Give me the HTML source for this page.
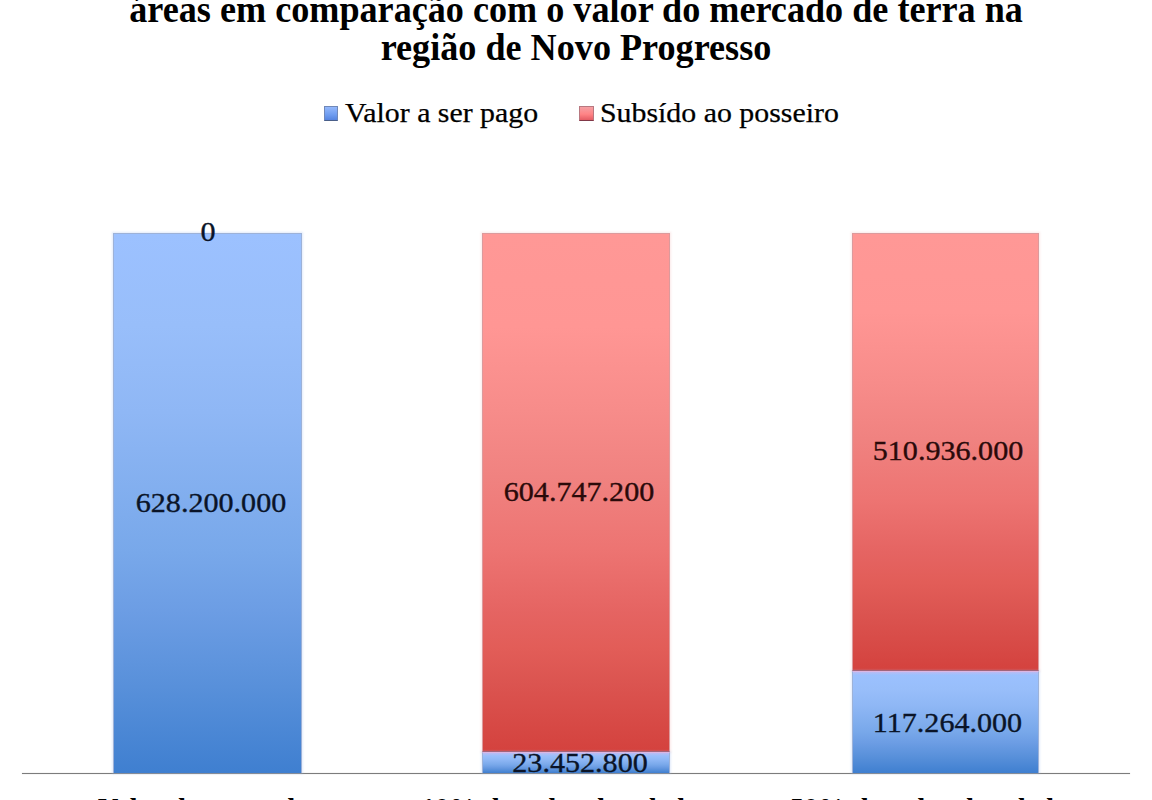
<!DOCTYPE html>
<html>
<head>
<meta charset="utf-8">
<style>
html,body{margin:0;padding:0;background:#fff;}
body{width:1152px;height:800px;position:relative;overflow:hidden;font-family:"Liberation Serif",serif;}
.c{position:absolute;width:1600px;text-align:center;white-space:nowrap;line-height:1;}
.c>span{display:inline-block;}
.title{font-weight:bold;color:#000;font-size:37.4px;}
.title>span{transform:scaleX(0.967);}
.leg{position:absolute;white-space:nowrap;line-height:1;font-size:28.3px;color:#000;transform-origin:0 0;transform:scaleX(1.055);-webkit-text-stroke:0.25px #000;}
.sw{position:absolute;width:15px;height:15px;box-sizing:border-box;}
.bar{position:absolute;box-sizing:border-box;}
.blue{background:linear-gradient(#9cc1ff 0%,#98befa 17%,#8fb7f5 33%,#78a8ea 59%,#6c9de4 70%,#5890da 84%,#3f7fd0 100%);border:1px solid #9db2d8;box-shadow:0 0 2px 1px rgba(170,195,240,0.35);}
.red{background:linear-gradient(#ff9896 0%,#ff9694 18%,#f78c8a 34%,#f08280 47%,#ed7472 61%,#e56462 73%,#e25d58 80%,#db5450 87%,#d4423e 100%);border:1px solid #dc9a9c;border-bottom-color:#a04858;box-shadow:0 0 2px 1px rgba(240,190,190,0.35);}
.blue{border-bottom:none;}
.blue.seg{border-top:1px solid #dcb6e2;}
.blue.seg::before{content:'';position:absolute;left:0;right:0;top:0;height:3px;background:linear-gradient(rgba(200,184,236,0.7),rgba(170,196,250,0));}
.lbl{font-size:28px;color:#0a1428;-webkit-text-stroke:0.35px #0a1428;}
.lbl>span{transform:scaleX(1.075);}
.lblr{color:#2a0a0a;-webkit-text-stroke-color:#2a0a0a;}
.cat{position:absolute;font-weight:bold;font-size:28px;color:#000;white-space:nowrap;line-height:1;}
</style>
</head>
<body>
<div class="c title" style="left:-224px;top:-9.4px;"><span id="t1">áreas em comparação com o valor do mercado de terra na</span></div>
<div class="c title" style="left:-223.6px;top:29.3px;"><span id="t2">região de Novo Progresso</span></div>

<div class="sw" style="left:324px;top:106px;width:14px;background:linear-gradient(#94b8fc,#6e9cf0 60%,#5584e0);border:1px solid #7088b8;border-bottom-color:#4a5f88;"></div>
<div class="leg" id="l1" style="left:344.7px;top:99.1px;">Valor a ser pago</div>
<div class="sw" style="left:579px;top:106px;background:linear-gradient(#f4a0a4,#ff8486 55%,#e45c64);border:1px solid #b87880;border-bottom-color:#803848;"></div>
<div class="leg" id="l2" style="left:599.5px;top:99.1px;">Subsído ao posseiro</div>

<!-- axis -->
<div style="position:absolute;left:22px;top:773px;width:1108px;height:1px;background:#7c7c7c;box-shadow:0 0 1px rgba(120,120,120,0.6);"></div>

<!-- bar 1 -->
<div class="bar blue" style="left:113px;top:233px;width:189px;height:540px;"></div>
<!-- bar 2 -->
<div class="bar red" style="left:482px;top:233px;width:188px;height:519px;"></div>
<div class="bar blue seg" style="left:482px;top:752px;width:188px;height:21px;"></div>
<!-- bar 3 -->
<div class="bar red" style="left:852px;top:233px;width:187px;height:438px;"></div>
<div class="bar blue seg" style="left:852px;top:671px;width:187px;height:102px;"></div>

<div class="c lbl" style="left:-592.3px;top:217.6px;"><span id="d0">0</span></div>
<div class="c lbl" style="left:-589.35px;top:488.8px;"><span id="d1">628.200.000</span></div>
<div class="c lbl lblr" style="left:-220.9px;top:477.7px;"><span id="d2">604.747.200</span></div>
<div class="c lbl lblr" style="left:147.6px;top:437.1px;"><span id="d3">510.936.000</span></div>
<div class="c lbl" style="left:-220.5px;top:749px;"><span id="d4">23.452.800</span></div>
<div class="c lbl" style="left:147.65px;top:708.5px;"><span id="d5">117.264.000</span></div>

<div class="cat" style="left:98px;top:793.6px;">Valor de mercado</div>
<div class="cat" style="left:421px;top:793.6px;">10% do valor da tabela</div>
<div class="cat" style="left:790px;top:793.6px;">50% do valor da tabela</div>
</body>
</html>
